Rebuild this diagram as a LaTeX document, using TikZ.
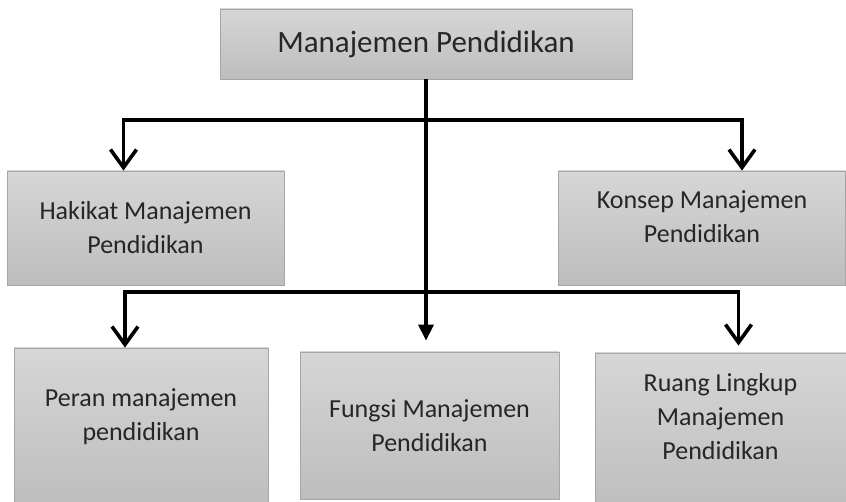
\documentclass[tikz,border=0pt]{standalone}
\usepackage{fontspec}
\setmainfont{Carlito}
\usepackage{tikz}
\usetikzlibrary{arrows.meta}
\definecolor{boxtop}{HTML}{D6D6D6}
\definecolor{boxbot}{HTML}{BDBDBD}
\definecolor{boxedge}{HTML}{A6A6A6}
\definecolor{txt}{HTML}{262626}
\tikzset{
  box/.style={
    draw=boxedge, line width=0.8pt, top color=boxtop, bottom color=boxbot,
    inner sep=0pt, align=center, text=txt,
    font=\fontsize{26}{34}\selectfont
  },
  blink/.style={
    line width=3.6pt, line join=miter,
    -{Straight Barb[length=18pt,width=26pt,line width=3.6pt]}
  },
  mlink/.style={
    line width=3.6pt,
    -{Triangle[length=16pt,width=15pt]}
  }
}

\begin{document}
\begin{tikzpicture}[x=1pt,y=-1pt]
  \useasboundingbox[fill=white] (0,0) rectangle (846,502);
  % boxes
  \node[box, minimum width=412pt, minimum height=70pt, font=\fontsize{31}{36}\selectfont]
    (mp) at (426,44) {Manajemen Pendidikan};
  \node[box, minimum width=277pt, minimum height=114pt] (hakikat) at (145.5,228)
    {Hakikat Manajemen\\Pendidikan};
  \node[box, minimum width=287pt, minimum height=114pt] (konsep) at (702,228)
    {Konsep Manajemen\\Pendidikan\\[-12pt]};
  \node[box, minimum width=254pt, minimum height=160pt] (peran) at (141,428)
    {Peran manajemen\\pendidikan\\[-8pt]};
  \node[box, minimum width=259pt, minimum height=147pt] (fungsi) at (429.5,425.5)
    {Fungsi Manajemen\\Pendidikan};
  \node[box, minimum width=251pt, minimum height=162pt] (ruang) at (720.5,434)
    {Ruang Lingkup\\Manajemen\\Pendidikan\\[2pt]};
  % branch points
  \coordinate (j1) at (426,120);
  \coordinate (j2) at (426,292);
  % connectors
  \draw[mlink, shorten >=11pt] (mp.south) -- (fungsi.north -| mp.south); % trunk
  \draw[blink] (j1) -| ([xshift=-22pt]hakikat.north);
  \draw[blink] (j1) -| ([xshift=40pt]konsep.north);
  \draw[blink] (j2) -| ([xshift=-16pt]peran.north);
  \draw[blink, shorten >=7pt] (j2) -| ([xshift=18pt]ruang.north);
\end{tikzpicture}
\end{document}
